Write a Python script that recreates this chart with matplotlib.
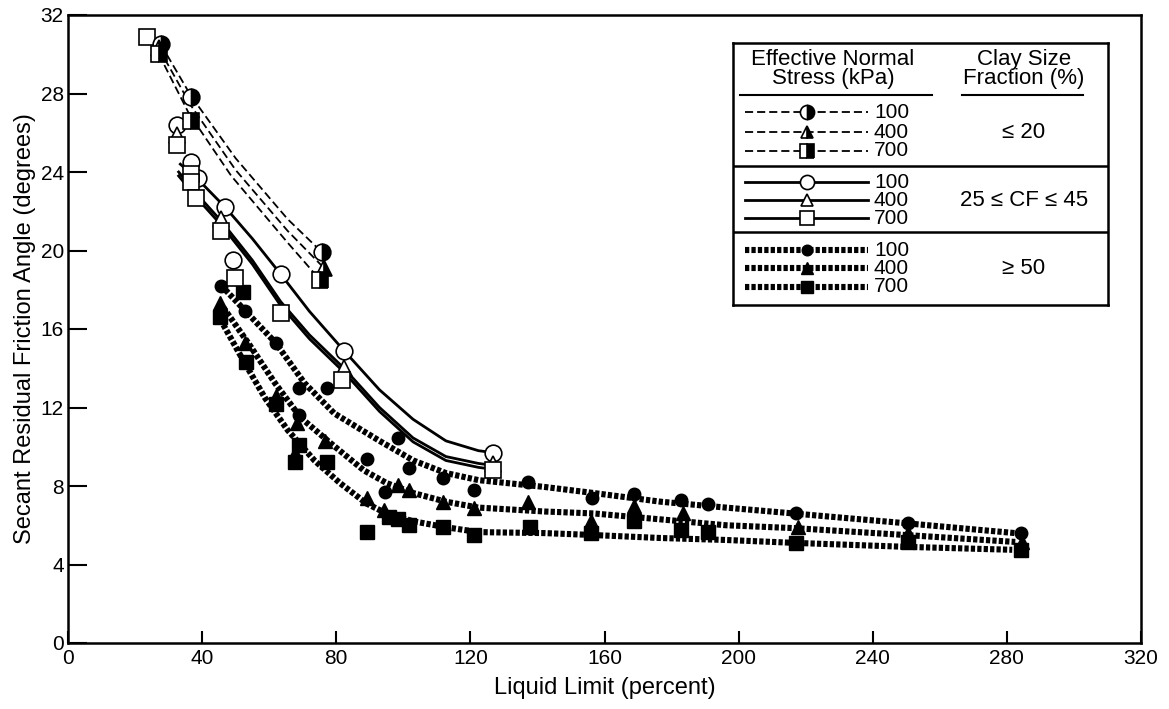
import matplotlib.pyplot as plt

plt.rcParams['font.family'] = ['Liberation Sans', 'DejaVu Sans']

# --- clay size fraction <= 20 % (dashed lines, half filled markers) ---
cf20_100_ll = [27.7, 36.6, 75.8]
cf20_100_phi = [30.5, 27.8, 19.9]
cf20_400_ll = [27.1, 76.4]
cf20_400_phi = [30.3, 19.1]
cf20_700_ll = [27.1, 36.6, 75.2]
cf20_700_phi = [30.0, 26.6, 18.5]
# trend lines
cf20_100_line_ll = [27.7, 36.6, 50.0, 65.5, 75.8]
cf20_100_line_phi = [30.5, 27.9, 24.7, 21.6, 19.9]
cf20_400_line_ll = [27.1, 36.6, 50.0, 65.5, 76.4]
cf20_400_line_phi = [30.3, 27.4, 24.1, 21.0, 19.1]
cf20_700_line_ll = [27.1, 36.0, 48.7, 65.5, 75.2]
cf20_700_line_phi = [30.0, 27.0, 23.8, 20.4, 18.5]

# --- 25 <= CF <= 45 (solid lines, open markers) ---
cf35_100_ll = [32.4, 36.6, 38.9, 46.9, 49.3, 63.4, 82.3, 126.8]
cf35_100_phi = [26.4, 24.5, 23.7, 22.2, 19.5, 18.8, 14.9, 9.7]
cf35_400_ll = [32.4, 45.7, 82.3, 126.8]
cf35_400_phi = [25.9, 21.6, 14.0, 9.1]
cf35_700_ll = [23.6, 32.4, 36.6, 36.6, 38.3, 45.7, 49.9, 63.4, 81.7, 126.8]
cf35_700_phi = [30.9, 25.4, 23.9, 23.5, 22.7, 21.0, 18.6, 16.8, 13.4, 8.8]
cf35_100_line_ll = [33.5, 38.9, 46.9, 55.0, 63.4, 72.0, 82.3, 92.9, 102.9, 112.7, 122.4, 126.8]
cf35_100_line_phi = [24.4, 23.6, 22.2, 20.6, 18.8, 16.9, 14.9, 12.9, 11.4, 10.3, 9.8, 9.7]
cf35_400_line_ll = [33.0, 38.3, 45.7, 55.0, 63.4, 72.0, 82.3, 92.9, 102.9, 112.7, 122.4, 126.8]
cf35_400_line_phi = [24.0, 22.9, 21.5, 19.5, 17.4, 15.7, 14.0, 12.0, 10.45, 9.5, 9.15, 9.05]
cf35_700_line_ll = [33.0, 38.3, 45.7, 55.0, 63.4, 72.0, 82.3, 92.9, 102.9, 112.7, 122.4, 126.8]
cf35_700_line_phi = [23.8, 22.7, 21.3, 19.3, 17.2, 15.5, 13.8, 11.8, 10.25, 9.3, 8.95, 8.85]

# --- CF >= 50 (dotted lines, filled markers) ---
cf50_100_ll = [45.7, 52.8, 61.9, 69.0, 77.3, 69.0, 89.1, 98.5, 101.8, 111.8, 121.0, 94.4,
               137.2, 156.3, 168.7, 182.9, 190.9, 217.0, 250.6, 284.2]
cf50_100_phi = [18.2, 16.9, 15.3, 13.0, 13.0, 11.6, 9.4, 10.45, 8.9, 8.4, 7.8, 7.7,
                8.2, 7.4, 7.6, 7.3, 7.1, 6.6, 6.1, 5.6]
cf50_400_ll = [45.4, 52.8, 61.9, 68.4, 76.7, 67.6, 89.1, 94.1, 98.5, 101.8, 111.8, 121.0,
               137.2, 156.0, 168.7, 183.5, 217.6, 250.6, 284.5]
cf50_400_phi = [17.3, 15.3, 12.6, 11.2, 10.3, 9.7, 7.4, 6.8, 8.05, 7.8, 7.2, 6.9,
                7.2, 6.2, 7.0, 6.6, 5.9, 5.6, 5.15]
cf50_700_ll = [45.4, 53.1, 52.2, 61.9, 69.0, 67.6, 77.3, 89.1, 95.6, 98.5, 101.8, 111.8, 121.0,
               137.8, 156.0, 168.7, 182.9, 190.9, 217.0, 250.6, 284.2]
cf50_700_phi = [16.6, 14.3, 17.9, 12.2, 10.1, 9.2, 9.2, 5.65, 6.4, 6.3, 6.0, 5.9, 5.5,
                5.9, 5.6, 6.2, 5.75, 5.65, 5.1, 5.15, 4.75]
cf50_100_line_ll = [46.9, 61.9, 70.5, 79.4, 92.9, 103.0, 112.7, 122.4, 142.2, 156.9, 176.7,
                    196.2, 216.4, 250.0, 282.5]
cf50_100_line_phi = [18.0, 15.3, 13.25, 11.7, 10.3, 9.3, 8.66, 8.3, 7.95, 7.64, 7.2,
                     6.9, 6.6, 6.1, 5.6]
cf50_400_line_ll = [46.3, 53.7, 61.7, 69.3, 78.2, 88.2, 95.0, 103.0, 112.7, 122.4, 142.2,
                    156.9, 176.7, 196.2, 217.0, 250.0, 282.5]
cf50_400_line_phi = [17.1, 15.3, 13.25, 11.5, 10.2, 8.8, 8.15, 7.64, 7.2, 6.9, 6.7,
                     6.6, 6.3, 6.0, 5.85, 5.5, 5.15]
cf50_700_line_ll = [45.4, 51.6, 58.7, 65.5, 73.5, 81.1, 89.1, 95.0, 103.0, 112.7, 122.4,
                    142.2, 156.9, 176.7, 196.2, 217.0, 250.0, 281.6]
cf50_700_line_phi = [16.5, 14.6, 12.5, 10.85, 9.3, 8.15, 7.1, 6.6, 6.2, 5.9, 5.65,
                     5.6, 5.5, 5.35, 5.25, 5.1, 4.9, 4.75]

stresses = ['100', '400', '700']
groups_txt = ['\u2264 20', '25 \u2264 CF \u2264 45', '\u2265 50']

dashed = dict(color='black', lw=1.3, linestyle=(0, (4.5, 2.2)))
solid = dict(color='black', lw=2.0, linestyle='-')
dotted = dict(color='black', lw=4.4, linestyle=(0, (0.7, 0.35)), dash_capstyle='butt')

half = dict(linestyle='none', mec='black', mfc='black', mfcalt='white', fillstyle='right', mew=1.2)
opn = dict(linestyle='none', mec='black', mfc='white', mew=1.2)
full = dict(linestyle='none', mec='black', mfc='black', mew=1.0)

ms = {'o': 12, '^': 11, 's': 12}
msf = {'o': 9, '^': 9.5, 's': 9.5}

fig = plt.figure(figsize=(11.69, 7.09), dpi=100)
ax = fig.add_axes([68 / 1169, 66 / 709, 1073 / 1169, 628 / 709])

# trend lines
ax.plot(cf20_100_line_ll, cf20_100_line_phi, **dashed)
ax.plot(cf20_400_line_ll, cf20_400_line_phi, **dashed)
ax.plot(cf20_700_line_ll, cf20_700_line_phi, **dashed)
ax.plot(cf35_100_line_ll, cf35_100_line_phi, **solid)
ax.plot(cf35_400_line_ll, cf35_400_line_phi, **solid)
ax.plot(cf35_700_line_ll, cf35_700_line_phi, **solid)
ax.plot(cf50_100_line_ll, cf50_100_line_phi, **dotted)
ax.plot(cf50_400_line_ll, cf50_400_line_phi, **dotted)
ax.plot(cf50_700_line_ll, cf50_700_line_phi, **dotted)

# data points
ax.plot(cf50_100_ll, cf50_100_phi, marker='o', ms=msf['o'], **full)
ax.plot(cf50_400_ll, cf50_400_phi, marker='^', ms=msf['^'], **full)
ax.plot(cf50_700_ll, cf50_700_phi, marker='s', ms=msf['s'], **full)
ax.plot(cf35_100_ll, cf35_100_phi, marker='o', ms=ms['o'], **opn)
ax.plot(cf35_400_ll, cf35_400_phi, marker='^', ms=ms['^'], **opn)
ax.plot(cf35_700_ll, cf35_700_phi, marker='s', ms=ms['s'], **opn)
ax.plot(cf20_100_ll, cf20_100_phi, marker='o', ms=ms['o'], **half)
ax.plot(cf20_400_ll, cf20_400_phi, marker='^', ms=ms['^'], **half)
ax.plot(cf20_700_ll, cf20_700_phi, marker='s', ms=ms['s'], **half)

ax.set_xlim(0, 320)
ax.set_ylim(0, 32)
ax.set_xticks(range(0, 321, 40))
ax.set_yticks(range(0, 33, 4))
ax.tick_params(axis='x', direction='in', length=9, width=1.5, labelsize=15, pad=4)
ax.tick_params(axis='y', direction='in', length=14, width=1.5, labelsize=15, pad=3)
for s in ax.spines.values():
    s.set_linewidth(1.8)
ax.set_xlabel('Liquid Limit (percent)', fontsize=17, labelpad=7)
ax.set_ylabel('Secant Residual Friction Angle (degrees)', fontsize=17, labelpad=3)

# legend box drawn by hand, in pixel units of the reference
lg = fig.add_axes([733 / 1169, (709 - 305) / 709, 375 / 1169, 262 / 709])
lg.set_xlim(733, 1108)
lg.set_ylim(305, 43)
lg.set_xticks([])
lg.set_yticks([])
for s in lg.spines.values():
    s.set_linewidth(1.8)
lg.text(833, 69, 'Effective Normal\nStress (kPa)', ha='center', va='center', fontsize=16, linespacing=0.92)
lg.text(1024, 69, 'Clay Size\nFraction (%)', ha='center', va='center', fontsize=16, linespacing=0.92)
lg.plot([740, 932], [95, 95], color='black', lw=1.5)
lg.plot([962, 1083], [95, 95], color='black', lw=1.5)
lg.axhline(166, color='black', lw=1.8)
lg.axhline(232, color='black', lw=1.8)

rows = [[112, 132, 151], [182, 200, 218], [250, 268, 287]]
styles = [dashed, solid, dotted]
mstyles = [half, opn, full]
sizes = [ms, ms, msf]
for g in range(3):
    for i, mk in enumerate(['o', '^', 's']):
        y = rows[g][i]
        lg.plot([745, 868], [y, y], **styles[g])
        lg.plot([807], [y], marker=mk, ms=sizes[g][mk] * 0.85, **mstyles[g])
        lg.text(874, y, stresses[i], ha='left', va='center', fontsize=15)
    lg.text(1024, rows[g][1], groups_txt[g], ha='center', va='center', fontsize=16)

fig.savefig('out.png', dpi=100)
